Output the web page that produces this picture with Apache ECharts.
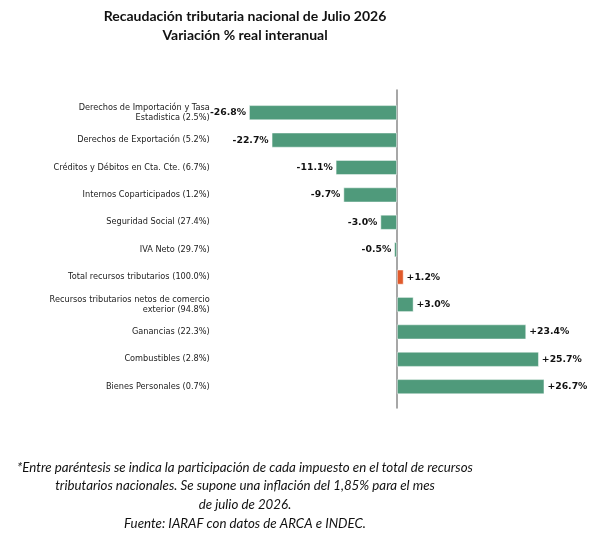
<!DOCTYPE html>
<html>
<head>
<meta charset="utf-8">
<script src="https://cdn.jsdelivr.net/npm/echarts@6/dist/echarts.min.js"></script>
<style>
  html, body { margin: 0; padding: 0; background: #fff; }
  #chart { width: 615px; height: 552px; }
</style>
</head>
<body>
<div id="chart"></div>
<script>
var categories = [
  'Derechos de Importación y Tasa\nEstadistica (2.5%)',
  'Derechos de Exportación (5.2%)',
  'Créditos y Débitos en Cta. Cte. (6.7%)',
  'Internos Coparticipados (1.2%)',
  'Seguridad Social (27.4%)',
  'IVA Neto (29.7%)',
  'Total recursos tributarios (100.0%)',
  'Recursos tributarios netos de comercio\nexterior (94.8%)',
  'Ganancias (22.3%)',
  'Combustibles (2.8%)',
  'Bienes Personales (0.7%)'
];
var values = [-26.8, -22.7, -11.1, -9.7, -3.0, -0.5, 1.2, 3.0, 23.4, 25.7, 26.7];
var highlight = 'Total recursos tributarios (100.0%)';

var green = '#4f9a7b';
var orange = '#e05a2b';

var myChart = echarts.init(document.getElementById('chart'));

var barData = values.map(function (v, i) {
  var pos = v >= 0;
  return {
    value: v,
    itemStyle: { color: categories[i] === highlight ? orange : green },
    label: { position: pos ? 'right' : 'left' }
  };
});

var option = {
  animation: false,
  backgroundColor: '#fff',
  title: [
    {
      text: 'Recaudación tributaria nacional de Julio 2026\nVariación % real interanual',
      left: 240,
      top: 2,
      textAlign: 'center',
      textStyle: {
        fontFamily: 'Lato',
        fontWeight: 'bold',
        fontSize: 14,
        lineHeight: 19,
        color: '#111'
      }
    },
    {
      text: '*Entre paréntesis se indica la participación de cada impuesto en el total de recursos\n' +
            'tributarios nacionales. Se supone una inflación del 1,85% para el mes\n' +
            'de julio de 2026.\n' +
            'Fuente: IARAF con datos de ARCA e INDEC.',
      left: 240,
      top: 453,
      textAlign: 'center',
      textStyle: {
        fontFamily: 'Lato',
        fontStyle: 'italic',
        fontWeight: 'normal',
        fontSize: 13.3,
        lineHeight: 18.7,
        color: '#111'
      }
    }
  ],
  grid: [
    { left: 214.8, width: 375.4, top: 99, height: 301.4, containLabel: false },
    { left: 214.8, width: 375.4, top: 90, height: 318, containLabel: false }
  ],
  xAxis: [
    { type: 'value', gridIndex: 0, min: -33, max: 35, show: false },
    { type: 'value', gridIndex: 1, min: -33, max: 35, show: false }
  ],
  yAxis: [
    {
      type: 'category',
      gridIndex: 0,
      data: categories,
      inverse: true,
      axisLine: { show: false, onZero: false },
      axisTick: { show: false },
      splitLine: { show: false },
      axisLabel: {
        margin: 5,
        fontFamily: 'DejaVu Sans',
        fontSize: 8.2,
        lineHeight: 10,
        color: '#222',
        align: 'right'
      }
    },
    {
      type: 'value',
      gridIndex: 1,
      min: 0,
      max: 1,
      axisLine: { show: true, onZero: true, lineStyle: { color: '#8a8a8a', width: 1.5 } },
      axisTick: { show: false },
      axisLabel: { show: false },
      splitLine: { show: false }
    }
  ],
  series: [
    {
      type: 'bar',
      xAxisIndex: 0,
      yAxisIndex: 0,
      data: barData,
      barWidth: 15,
      itemStyle: { borderColor: 'rgba(255,255,255,0.6)', borderWidth: 0.8 },
      label: {
        show: true,
        distance: 3,
        fontFamily: 'DejaVu Sans',
        fontWeight: 'bold',
        fontSize: 9.3,
        color: '#111',
        formatter: function (p) {
          var v = p.value;
          return (v > 0 ? '+' : '') + v.toFixed(1) + '%';
        }
      }
    }
  ]
};

myChart.setOption(option);
</script>
</body>
</html>
